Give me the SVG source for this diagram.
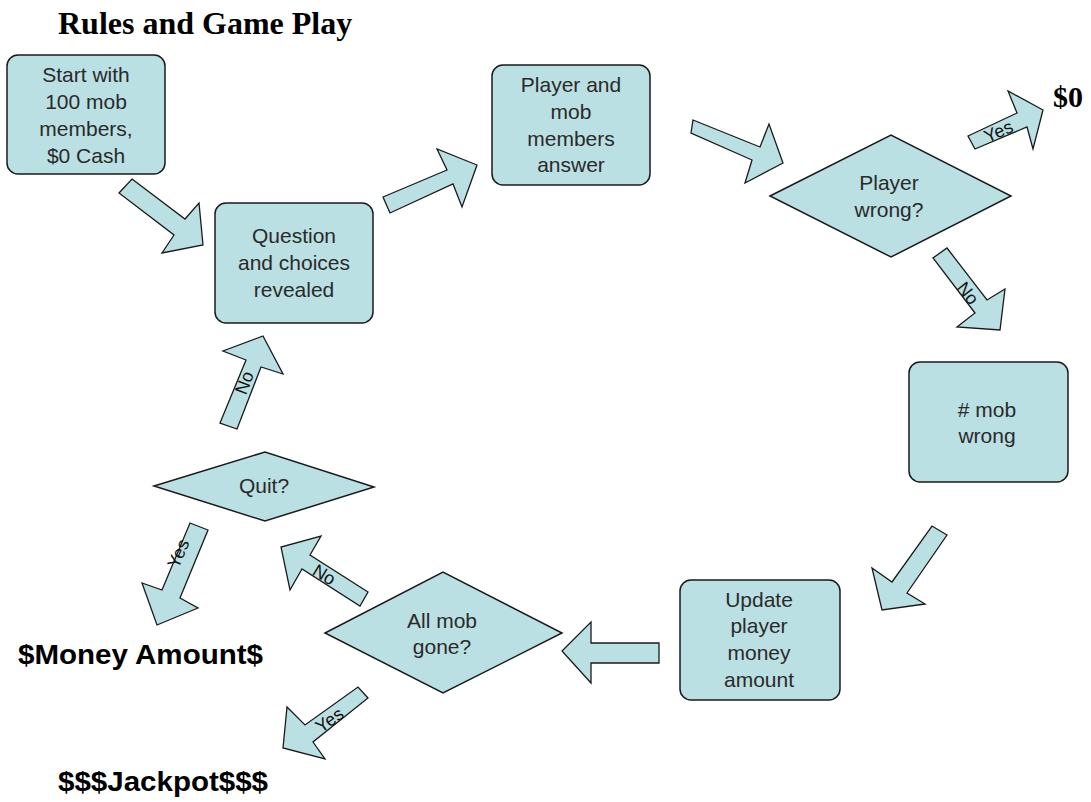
<svg xmlns="http://www.w3.org/2000/svg" width="1091" height="802" viewBox="0 0 1091 802">
<style>
.box{fill:#BBE0E3;stroke:#1a1a1a;stroke-width:1.5}
.arr{fill:#BBE0E3;stroke:#1a1a1a;stroke-width:1.3;stroke-linejoin:miter}
.t{font-family:"Liberation Sans",Arial,sans-serif;font-size:21px;fill:#2a2a2a;text-anchor:middle}
.lbl{font-family:"Liberation Sans",Arial,sans-serif;font-size:18px;fill:#111;text-anchor:middle}
.out{font-family:"Liberation Sans",Arial,sans-serif;font-size:27px;font-weight:bold;fill:#000}
.title{font-family:"Liberation Serif","Times New Roman",serif;font-size:32px;font-weight:bold;fill:#000}
</style>
<rect width="1091" height="802" fill="#fff"/>
<text class="title" x="58" y="34">Rules and Game Play</text>

<g id="start">
<rect class="box" x="7" y="55" width="158" height="119" rx="11"/>
<text class="t" x="86" y="82">Start with</text>
<text class="t" x="86" y="109">100 mob</text>
<text class="t" x="86" y="136">members,</text>
<text class="t" x="86" y="163">$0 Cash</text>
</g>

<g id="question">
<rect class="box" x="215" y="203" width="158" height="120" rx="11"/>
<text class="t" x="294" y="243">Question</text>
<text class="t" x="294" y="270">and choices</text>
<text class="t" x="294" y="297">revealed</text>
</g>

<g id="answer">
<rect class="box" x="492" y="65" width="158" height="120" rx="11"/>
<text class="t" x="571" y="92">Player and</text>
<text class="t" x="571" y="119">mob</text>
<text class="t" x="571" y="146">members</text>
<text class="t" x="571" y="172">answer</text>
</g>

<g id="playerwrong">
<polygon class="box" points="770,196 891,135 1011,196 891,257"/>
<text class="t" x="889" y="190">Player</text>
<text class="t" x="889" y="217">wrong?</text>
</g>

<g id="mobwrong">
<rect class="box" x="909" y="362" width="159" height="120" rx="11"/>
<text class="t" x="987" y="417"># mob</text>
<text class="t" x="987" y="443">wrong</text>
</g>

<g id="update">
<rect class="box" x="680" y="580" width="160" height="120" rx="11"/>
<text class="t" x="759" y="607">Update</text>
<text class="t" x="759" y="633">player</text>
<text class="t" x="759" y="660">money</text>
<text class="t" x="759" y="687">amount</text>
</g>

<g id="allmob">
<polygon class="box" points="325,633 443,572 562,633 443,693"/>
<text class="t" x="442" y="628">All mob</text>
<text class="t" x="442" y="654">gone?</text>
</g>

<g id="quit">
<polygon class="box" points="154,486 265,452 374,487 265,521"/>
<text class="t" x="264" y="493">Quit?</text>
</g>

<g id="zero"><text class="out" x="1053" y="107" style="font-family:'Liberation Serif','Times New Roman',serif;font-size:30px">$0</text></g>
<g id="money"><text class="out" x="18" y="664" textLength="245" lengthAdjust="spacingAndGlyphs">$Money Amount$</text></g>
<g id="jackpot"><text class="out" x="58" y="791" textLength="210" lengthAdjust="spacingAndGlyphs">$$$Jackpot$$$</text></g>

<g id="connectors">
<polygon class="arr" points="132,179 185,219 199,203 203,245 162,253 174,235 119,193"/>
<polygon class="arr" points="383,197 447,170 437,149 477,165 462,207 453,184 390,213"/>
<polygon class="arr" points="693,120 760,147 769,124 783,163 745,183 752,160 691,133"/>
<polygon class="arr" points="968,136 1017,113 1008,91 1043,110 1033,149 1027,127 975,149"/>
<text class="lbl" transform="translate(1001,137) rotate(-24)">Yes</text>
<polygon class="arr" points="947,248 987,300 1005,289 1000,330 957,327 975,313 933,258"/>
<text class="lbl" transform="translate(963,297) rotate(52)">No</text>
<polygon class="arr" points="947,535 932,526 892,582 872,568 882,610 925,604 907,593"/>
<polygon class="arr" points="659,643 591,643 591,622 562,651 591,683 591,663 659,663"/>
<polygon class="arr" points="368,592 310,555 321,536 281,547 290,590 302,569 360,606"/>
<text class="lbl" transform="translate(321,580) rotate(31)">No</text>
<polygon class="arr" points="220,423 246,360 223,351 263,336 283,374 261,367 237,429"/>
<text class="lbl" transform="translate(250,385) rotate(-69)">No</text>
<polygon class="arr" points="190,523 208,530 180,598 198,608 157,625 142,583 162,590"/>
<text class="lbl" transform="translate(184,556) rotate(-67)">Yes</text>
<polygon class="arr" points="368,698 358,687 305,725 287,707 283,748 325,759 313,742"/>
<text class="lbl" transform="translate(333,725) rotate(-35)">Yes</text>
</g>
</svg>
